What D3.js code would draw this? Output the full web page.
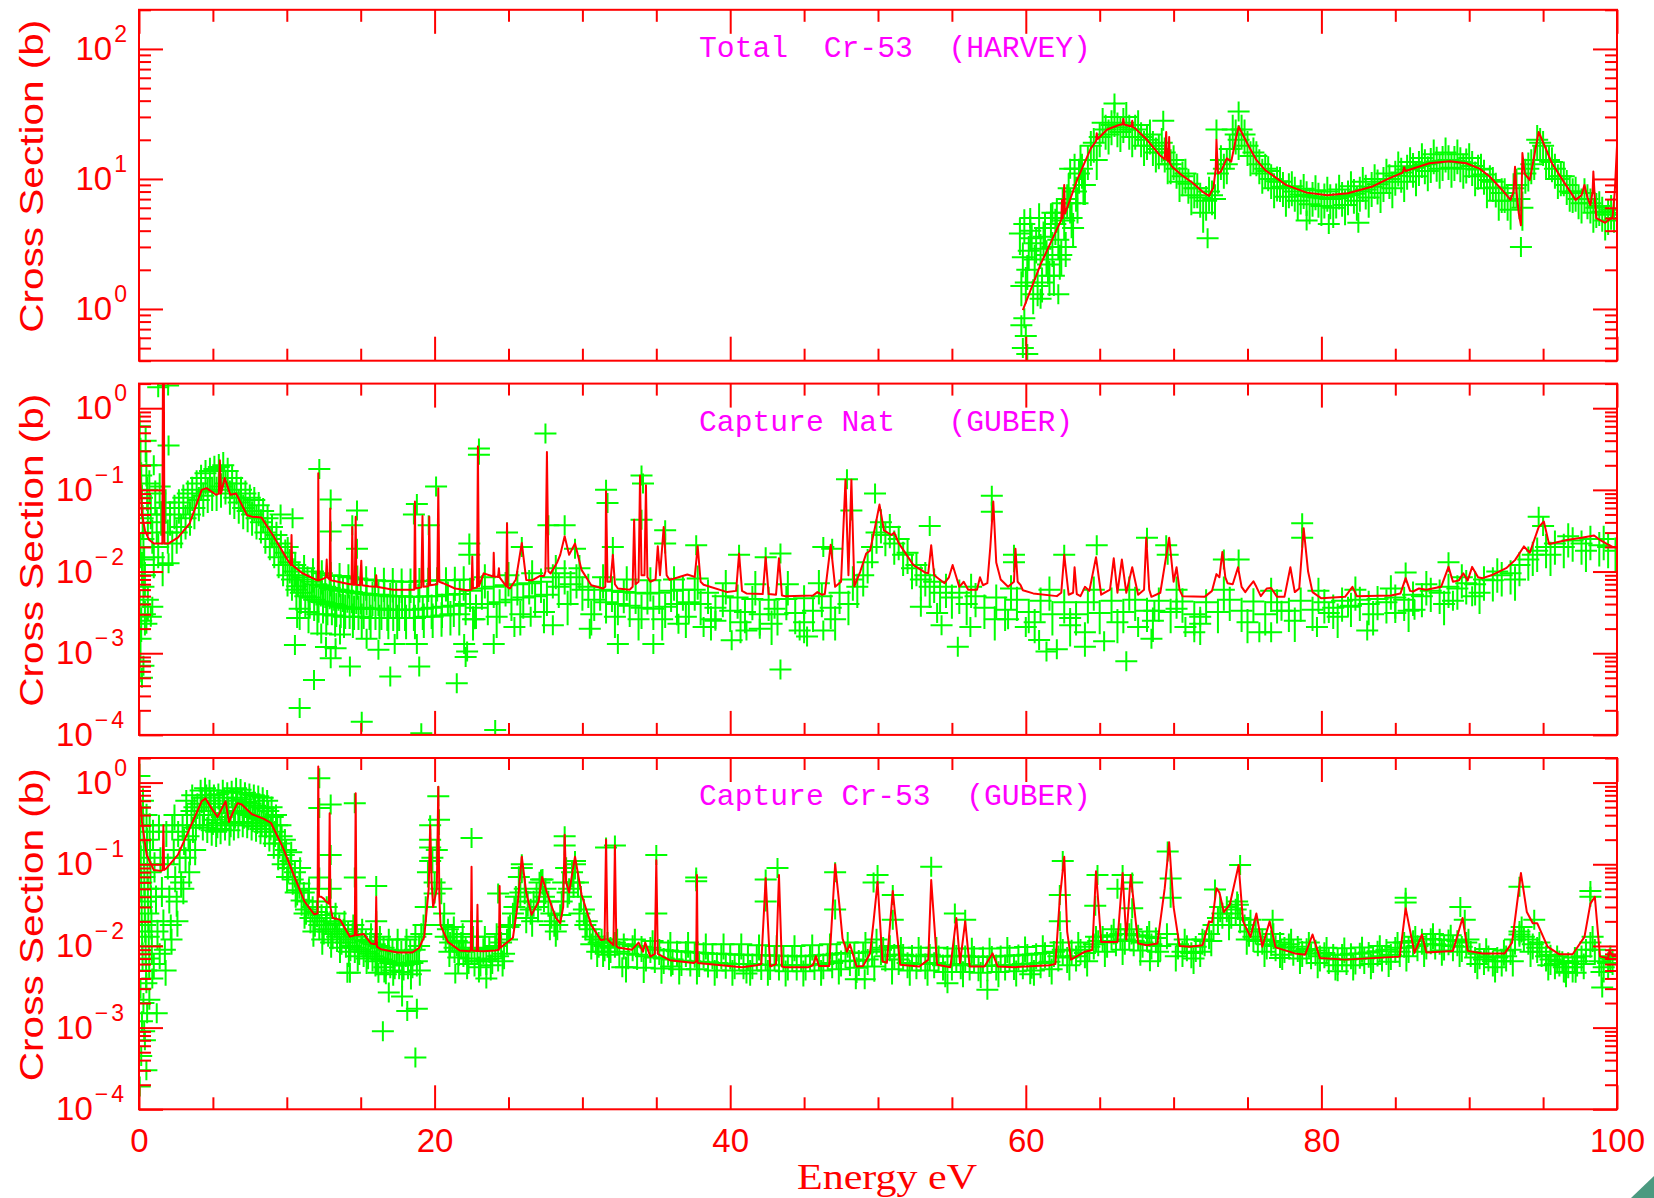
<!DOCTYPE html>
<html>
<head>
<meta charset="utf-8">
<script src="https://cdn.jsdelivr.net/npm/d3@7"></script>
<style>
  body { margin: 0; background: #fff; }
  svg { display: block; }
</style>
</head>
<body>
<svg id="chart" width="1654" height="1198"></svg>
<script>
// ---- axis values ----
var energyMajor = [0, 20, 40, 60, 80, 100];
var energyMinor = [5, 10, 15, 25, 30, 35, 45, 50, 55, 65, 70, 75, 85, 90, 95];
var totalDomain = [0.4, 200];
var captureDomain = [1e-4, 2];

// ---- Total Cr-53 (HARVEY): evaluated curve [E, xs] ----
var totalCurve = [[59.8,0.98],[61.0,2.2],[62.4,4.85],[62.45,6.9],[62.5,5.0],[62.6,9.0],[62.65,5.4],[63.5,10],[64.4,17.2],[64.75,19.5],[64.8,22.5],[64.85,20.2],[65.5,24],[66.3,26],[66.55,26.3],[66.6,29],[66.65,26.2],[67.15,25.3],[67.2,28],[67.25,25],[67.4,24.5],[68.2,20],[69.05,15.3],[69.4,14.2],[69.5,23],[69.55,14],[69.65,13.6],[69.7,21],[69.75,13.2],[69.9,12.4],[70.6,10.6],[71.3,9.3],[72.0,7.9],[72.4,7.4],[72.7,8.6],[72.85,12],[72.9,20],[73.0,11],[73.2,11.4],[73.6,14.4],[73.9,13.6],[74.2,20],[74.4,25.3],[75.1,17.7],[75.6,14],[76.2,11.7],[77.6,9.0],[79.0,7.85],[80.4,7.5],[81.8,7.76],[83.4,8.7],[84.5,10],[85.5,11.2],[85.6,12.3],[85.7,11.5],[87.3,13.2],[88.7,13.7],[89.8,13.2],[90.7,12],[91.4,10.4],[92.2,8.3],[92.8,6.9],[93.0,8],[93.1,12.4],[93.2,8],[93.35,5.5],[93.5,4.4],[93.6,15.8],[93.75,11],[94.1,9.8],[94.4,15],[94.7,23],[95.1,18],[95.6,13.2],[96.4,9.5],[97.2,6.9],[97.6,7.5],[97.8,9.0],[98.0,7.2],[98.2,6.3],[98.35,8],[98.4,11.4],[98.5,7],[98.6,5.0],[99.2,4.6],[99.7,5.1],[99.85,8],[100,18]];

// measured points [E, xs, dxs]
var totalData = [[59.6,3.8,1.2],[60.0,1.6,0.5],[60.4,3.5,1.1],[60.8,1.5,0.4],[61.2,3.6,1.1],[61.6,1.8,0.5],[62.0,4.5,1.4],[62.4,2.6,0.7],[62.8,7.0,2],[63.2,4.2,1.2],[63.6,11,3],[64.0,9,2.5],[64.4,18,4],[64.8,14,3],[65.2,27,6],[65.6,22,4],[66.0,30,6],[66.4,23,4],[66.8,30,6],[67.2,21,4],[67.6,26,5],[68.0,18,3.5],[68.4,22,4],[68.8,16,3],[69.2,19,4],[69.6,13,3],[70.0,14,3],[70.4,9.5,2],[70.8,11,2.2],[71.2,7.5,1.5],[71.6,8.5,1.8],[72.0,5.5,1.2],[72.4,8,2],[72.8,7,2],[73.2,14,4],[73.6,13,3],[74.0,24,6],[74.4,20,5],[74.8,22,5],[75.2,15,3],[75.6,15,3],[76.0,11,2.2],[76.4,11.5,2.3],[76.8,8.5,1.7],[77.2,9.5,2],[77.6,7.3,1.5],[78.0,8.8,1.8],[78.4,6.8,1.4],[78.8,8.4,1.8],[79.2,6.4,1.4],[79.6,8.2,1.8],[80.0,6.2,1.4],[80.4,8.0,1.8],[80.8,6.0,1.4],[81.2,8.3,1.8],[81.6,6.3,1.4],[82.0,8.8,1.9],[82.4,6.8,1.5],[82.8,9.5,2],[83.2,7.2,1.5],[83.6,10,2.1],[84.0,7.8,1.6],[84.4,11,2.3],[84.8,8.5,1.8],[85.2,12.5,2.5],[85.6,9.5,2],[86.0,13.5,2.7],[86.4,10.5,2.1],[86.8,14.5,2.9],[87.2,11.5,2.3],[87.6,15.5,3],[88.0,12,2.4],[88.4,16,3],[88.8,12.2,2.4],[89.2,15.5,3],[89.6,12,2.4],[90.0,14.5,3],[90.4,10.5,2.1],[90.8,12,2.4],[91.2,8.5,1.7],[91.6,9.5,2],[92.0,6.8,1.4],[92.4,7.8,1.6],[92.8,5.8,1.2],[93.2,9,3],[93.6,6,2],[94.0,12,4],[94.4,14,4],[94.8,19,5],[95.2,14,3],[95.6,13.5,3],[96.0,10,2],[96.4,10.5,2.1],[96.8,8,1.6],[97.2,8,1.6],[97.6,6.5,1.3],[98.0,7,1.4],[98.4,5.5,1.1],[98.8,6.2,1.3],[99.2,4.8,1],[99.6,5.8,1.2],[100.0,5.0,1]];
var totalExtra = [[59.7,1.5],[59.9,4.5],[60.1,2.0],[60.3,4.0],[60.5,1.3],[60.7,3.2],[60.9,5.0],[61.1,1.6],[61.3,4.2],[61.5,2.2],[61.7,5.0],[61.9,1.8],[62.1,5.5],[62.3,2.4],[62.5,6.5],[62.7,3.0],[62.9,8.5],[63.1,5.0],[63.3,12],[63.5,6.5],[63.7,14],[63.9,9],
[59.8,2.5],[60.2,2.8],[60.6,2.4],[61.0,2.9],[61.4,2.6],[61.8,3.0],[62.2,3.4],[62.6,4.8],[63.0,6.5],[63.4,8.0],[63.8,12],[64.2,14],[64.6,19],[65.0,21],[65.4,24],[65.8,26],[66.2,25],[66.6,27],[67.0,24],[67.4,24],[67.8,21],[68.2,20],[68.6,18],[69.0,17],[69.4,16],[69.8,13],[70.2,12],[70.6,10.5],[71.0,9.2],[71.4,8.5],[71.8,7.2],[72.2,6.8],[72.6,7.5],[73.0,11],[73.4,12],[73.8,17],[74.2,22],[74.6,24],[75.0,18],[75.4,16],[75.8,13],[76.2,12],[76.6,10],[77.0,9.6],[77.4,8.7],[77.8,8.5],[78.2,8.0],[78.6,7.6],[79.0,7.4],[79.4,7.3],[79.8,7.2],[80.2,7.1],[80.6,7.0],[81.0,7.1],[81.4,7.3],[81.8,7.5],[82.2,7.7],[82.6,8.0],[83.0,8.3],[83.4,8.7],[83.8,9.1],[84.2,9.5],[84.6,10.0],[85.0,10.6],[85.4,11.2],[85.8,11.8],[86.2,12.2],[86.6,12.6],[87.0,13.0],[87.4,13.3],[87.8,13.6],[88.2,13.8],[88.6,14],[89.0,13.8],[89.4,13.5],[89.8,13.2],[90.2,12.6],[90.6,11.8],[91.0,10.8],[91.4,9.8],[91.8,8.6],[92.2,7.8],[92.6,6.8],[93.0,8.5],[93.4,7],[93.8,11],[94.2,13],[94.6,20],[95.0,18],[95.4,14],[95.8,12],[96.2,10.5],[96.6,9],[97.0,7.8],[97.4,7],[97.8,7.8],[98.2,6.5],[98.6,6.0],[99.0,5.6],[99.4,5.3],[99.8,5.5]];
var totalScatter = [[59.7,0.75],[59.8,0.5],[60.0,0.62],[60.1,0.45],[59.9,0.85],[72.3,3.5],[93.5,3.0],[80.5,4.5],[82.5,4.6],[79.0,4.8],[62.2,1.3],[61.0,1.2],[69.3,28],[72.9,24],[66.0,38],[74.4,33],[61.8,5.5],[60.3,5.0],[63.0,12]];

// ---- Capture Nat (GUBER) ----
var natCurve = [[0.0,0.3],[0.1,0.12],[0.2,0.051],[0.4,0.032],[0.68,0.0245],[1.0,0.022],[1.33,0.022],[1.58,0.022],[1.62,3],[1.68,3],[1.72,0.022],[1.98,0.022],[2.63,0.026],[3.43,0.039],[4.24,0.1],[4.57,0.105],[5.21,0.087],[5.4,0.09],[5.47,0.23],[5.55,0.09],[5.8,0.14],[6.18,0.087],[6.57,0.09],[7.31,0.049],[7.64,0.047],[8.28,0.046],[9.1,0.027],[10.06,0.0138],[10.28,0.012],[10.32,0.028],[10.36,0.012],[11.03,0.0096],[12.0,0.0079],[12.1,0.0078],[12.13,0.16],[12.17,0.0078],[12.49,0.0082],[12.65,0.0085],[12.7,0.014],[12.75,0.0085],[12.9,0.008],[12.94,0.059],[12.98,0.0078],[13.3,0.0076],[14.27,0.007],[14.38,0.007],[14.43,0.035],[14.48,0.0069],[14.6,0.0069],[14.66,0.047],[14.71,0.0069],[14.95,0.0068],[15.04,0.0136],[15.1,0.0068],[15.56,0.0066],[16.0,0.0065],[16.05,0.009],[16.1,0.0065],[17.2,0.006],[18.5,0.006],[18.62,0.006],[18.67,0.072],[18.72,0.0062],[19.1,0.0064],[19.18,0.048],[19.25,0.0065],[19.58,0.0066],[19.64,0.047],[19.7,0.0068],[20.18,0.007],[20.25,0.105],[20.32,0.0075],[20.57,0.0072],[21.38,0.0062],[22.2,0.0059],[22.5,0.006],[22.55,0.0153],[22.6,0.0062],[22.87,0.0064],[22.93,0.34],[23.0,0.0066],[23.32,0.0095],[23.97,0.0087],[24.0,0.017],[24.05,0.0087],[24.3,0.0086],[24.35,0.011],[24.4,0.0085],[24.85,0.0066],[24.9,0.039],[24.95,0.0064],[25.1,0.0062],[25.5,0.008],[25.9,0.0224],[26.2,0.0079],[26.6,0.0078],[27.1,0.0088],[27.4,0.0088],[27.5,0.01],[27.6,0.29],[27.7,0.01],[27.85,0.0095],[28.3,0.013],[28.5,0.016],[28.8,0.027],[29.1,0.016],[29.5,0.022],[29.95,0.0104],[30.6,0.0068],[31.4,0.0062],[31.55,0.0065],[31.6,0.096],[31.7,0.0075],[31.9,0.0075],[32.06,0.016],[32.2,0.007],[32.4,0.0062],[33.2,0.006],[33.4,0.0065],[33.5,0.043],[33.6,0.007],[33.8,0.0075],[33.9,0.15],[34.0,0.009],[34.2,0.009],[34.3,0.114],[34.4,0.0085],[34.6,0.0075],[34.95,0.008],[35.1,0.0204],[35.25,0.009],[35.5,0.035],[35.7,0.009],[35.9,0.0079],[36.5,0.0085],[37.1,0.0092],[37.6,0.0086],[37.8,0.0204],[38.0,0.0075],[38.2,0.0069],[39.8,0.0056],[40.4,0.0058],[40.6,0.0166],[40.8,0.0058],[41.1,0.0054],[42.2,0.0053],[42.4,0.015],[42.6,0.0053],[43.1,0.0052],[43.3,0.0145],[43.5,0.0051],[43.7,0.005],[45.6,0.0051],[45.9,0.0056],[46.2,0.0052],[46.4,0.0053],[46.8,0.0213],[47.1,0.0065],[47.5,0.0075],[47.8,0.133],[48.0,0.009],[48.2,0.133],[48.4,0.0066],[48.8,0.01],[49.2,0.0166],[49.46,0.018],[49.8,0.035],[50.1,0.066],[50.4,0.032],[50.9,0.028],[51.1,0.03],[51.4,0.0223],[52.4,0.012],[53.2,0.0097],[53.4,0.0095],[53.6,0.021],[53.8,0.009],[54.5,0.0072],[54.8,0.0085],[55.05,0.012],[55.5,0.0065],[55.8,0.0075],[56.1,0.006],[56.7,0.006],[56.9,0.0085],[57.1,0.0068],[57.4,0.0072],[57.6,0.02],[57.8,0.072],[58.0,0.0129],[58.3,0.008],[58.8,0.0065],[59.2,0.0075],[59.3,0.019],[59.45,0.0075],[59.65,0.0068],[59.8,0.0059],[60.5,0.0054],[62.1,0.005],[62.4,0.0055],[62.6,0.016],[62.9,0.0052],[63.2,0.0055],[63.3,0.0113],[63.45,0.0053],[63.7,0.005],[64.0,0.0065],[64.3,0.0058],[64.75,0.015],[65.1,0.0052],[65.7,0.006],[65.95,0.0145],[66.2,0.0055],[66.5,0.014],[66.8,0.0055],[67.2,0.0113],[67.6,0.0052],[68.0,0.006],[68.15,0.026],[68.35,0.006],[68.5,0.0049],[69.1,0.0055],[69.7,0.026],[70.0,0.0075],[70.2,0.0113],[70.4,0.006],[70.6,0.005],[72.1,0.0049],[72.6,0.0058],[72.9,0.0093],[73.1,0.0085],[73.3,0.0174],[73.5,0.0085],[73.65,0.0072],[74.0,0.007],[74.36,0.0113],[74.6,0.0065],[74.85,0.0056],[75.1,0.0065],[75.4,0.0076],[75.6,0.0065],[75.9,0.005],[76.3,0.0062],[76.6,0.0063],[77.0,0.0049],[77.5,0.0049],[77.9,0.0113],[78.2,0.0056],[78.5,0.0062],[78.8,0.034],[79.1,0.01],[79.4,0.0056],[80.0,0.0047],[81.6,0.0049],[82.1,0.0065],[82.4,0.005],[84.7,0.0051],[85.35,0.0054],[85.7,0.0083],[86.0,0.0058],[86.2,0.0057],[86.6,0.0062],[87.1,0.006],[88.1,0.0065],[88.6,0.0114],[88.9,0.0075],[89.3,0.0078],[89.6,0.0095],[89.9,0.0078],[90.2,0.0114],[90.6,0.0085],[90.9,0.0083],[91.5,0.009],[92.5,0.011],[93.1,0.0138],[93.7,0.0203],[94.1,0.017],[94.7,0.035],[95.05,0.041],[95.4,0.0218],[96.7,0.0245],[97.6,0.026],[98.45,0.0276],[98.9,0.024],[99.4,0.0213],[99.7,0.02],[100,0.02]];

var natData = [[0.05,0.6,0.25],[0.1,0.3,0.12],[0.15,0.15,0.06],[0.2,0.08,0.03],[0.25,0.045,0.02],[0.3,0.025,0.01],[0.35,0.014,0.006],[0.4,0.009,0.003],[0.45,0.4,0.15],[0.5,0.2,0.08],[0.55,0.1,0.04],[0.6,0.05,0.02],[0.1,0.02,0.008],[0.2,0.012,0.005],[0.3,0.0065,0.002],[0.05,0.004,0.0015],[0.15,0.0025,0.001],[0.1,0.0015,0.0005],[0.05,0.0008,0.0003],[0.4,0.003,0.001],[0.6,0.0045,0.0015],
[0.7,0.12,0.04],[0.8,0.06,0.02],[0.9,0.03,0.01],[1.0,0.015,0.005],[1.1,0.09,0.03],[1.2,0.04,0.015],[1.3,0.02,0.007],[1.4,0.11,0.04],[1.5,0.05,0.02],[1.6,0.012,0.004],
[1.8,0.07,0.02],[1.95,0.03,0.01],[2.1,0.05,0.015],[2.25,0.022,0.007],[2.4,0.06,0.02],[2.55,0.03,0.01],[2.7,0.07,0.02],[2.85,0.035,0.01],
[3.0,0.08,0.02],[3.15,0.045,0.012],[3.3,0.09,0.025],[3.45,0.05,0.012],[3.6,0.1,0.025],[3.75,0.06,0.015],[3.9,0.12,0.03],
[4.05,0.075,0.02],[4.2,0.14,0.035],[4.35,0.085,0.02],[4.5,0.16,0.04],[4.65,0.095,0.02],[4.8,0.17,0.04],[4.95,0.1,0.025],[5.1,0.18,0.045],[5.25,0.1,0.025],[5.4,0.19,0.05],[5.55,0.11,0.025],[5.7,0.2,0.05],[5.85,0.12,0.03],[6.0,0.17,0.04],
[6.15,0.09,0.02],[6.3,0.14,0.035],[6.45,0.08,0.02],[6.6,0.12,0.03],[6.75,0.07,0.02],[6.9,0.1,0.025],[7.05,0.06,0.015],[7.2,0.09,0.02],[7.35,0.055,0.015],
[7.5,0.08,0.02],[7.65,0.05,0.012],[7.8,0.075,0.018],[7.95,0.045,0.01],[8.1,0.065,0.015],[8.25,0.04,0.01],[8.4,0.055,0.013],[8.55,0.03,0.008],[8.7,0.045,0.011],[8.85,0.025,0.007],
[9.0,0.035,0.01],[9.15,0.02,0.006],[9.3,0.028,0.008],[9.45,0.015,0.004],[9.6,0.022,0.006],[9.75,0.012,0.003],[9.9,0.017,0.005],[10.05,0.009,0.0025],[10.2,0.013,0.004],[10.35,0.008,0.002],
[10.5,0.01,0.003],[10.65,0.006,0.0018],[10.8,0.009,0.0025],[10.95,0.0055,0.0015],[11.1,0.0085,0.0025],[11.25,0.005,0.0015],[11.4,0.008,0.0022],[11.55,0.0048,0.0014],[11.7,0.0075,0.002],[11.85,0.0045,0.0013],[12.0,0.007,0.002],[12.15,0.0043,0.0012],[12.3,0.0068,0.002],[12.45,0.0042,0.0012],[12.6,0.0065,0.0018],[12.75,0.004,0.0012],[12.9,0.0063,0.0018],[13.05,0.004,0.0012],[13.2,0.006,0.0017],[13.35,0.0038,0.0011],[13.5,0.006,0.0017],[13.65,0.0037,0.0011],[13.8,0.0058,0.0016],[13.95,0.0036,0.001],[14.1,0.0057,0.0016],[14.25,0.0036,0.001],[14.4,0.0056,0.0016],[14.55,0.0035,0.001],[14.7,0.0055,0.0015],[14.85,0.0035,0.001],
[15.0,0.0054,0.0015],[15.2,0.0036,0.001],[15.4,0.0053,0.0015],[15.6,0.0035,0.001],[15.8,0.0052,0.0014],[16.0,0.0035,0.001],[16.2,0.0052,0.0014],[16.4,0.0035,0.001],[16.6,0.0051,0.0014],[16.8,0.0034,0.001],[17.0,0.005,0.0014],[17.2,0.0034,0.001],[17.4,0.005,0.0014],[17.6,0.0034,0.001],[17.8,0.005,0.0014],[18.0,0.0034,0.001],[18.3,0.0049,0.0014],[18.6,0.0034,0.001],[18.9,0.0049,0.0014],[19.2,0.0035,0.001],[19.5,0.005,0.0014],[19.8,0.0036,0.001],[20.1,0.005,0.0014],[20.5,0.0037,0.001],[20.9,0.0052,0.0014],[21.3,0.0038,0.001],[21.7,0.0053,0.0015],[22.1,0.004,0.001],
[22.4,0.0058,0.0012],[22.8,0.0036,0.0008],[23.2,0.0062,0.0013],[23.6,0.004,0.0009],[24.0,0.0065,0.0014],[24.4,0.0042,0.0009],[24.8,0.0068,0.0014],[25.2,0.0045,0.001],[25.6,0.007,0.0015],[26.0,0.0048,0.001],[26.4,0.0072,0.0015],[26.8,0.005,0.001],[27.2,0.0075,0.0016],[27.6,0.0052,0.0011],[28.0,0.0085,0.0018],[28.4,0.0065,0.0014],[28.8,0.0095,0.002],[29.2,0.007,0.0015],[29.6,0.0085,0.0018],[30.0,0.006,0.0013],[30.4,0.0065,0.0014],[30.8,0.0045,0.001],[31.2,0.006,0.0013],[31.6,0.0042,0.0009],[32.0,0.0058,0.0012],[32.4,0.004,0.0009],[32.8,0.0056,0.0012],[33.2,0.0038,0.0008],[33.6,0.0055,0.0012],[34.0,0.0036,0.0008],[34.4,0.0054,0.0011],[34.8,0.0035,0.0008],[35.2,0.0055,0.0012],[35.6,0.0037,0.0008],[36.0,0.0058,0.0012],[36.4,0.004,0.0009],[36.8,0.006,0.0013],[37.2,0.0042,0.0009],[37.6,0.006,0.0013],[38.0,0.004,0.0009],[38.5,0.0055,0.0012],[39.0,0.0036,0.0008],[39.5,0.005,0.0011],[40.0,0.0033,0.0007],[40.5,0.0048,0.001],[41.0,0.0032,0.0007],[41.5,0.0046,0.001],[42.0,0.003,0.0007],[42.6,0.0045,0.001],[43.2,0.003,0.0007],[43.8,0.0046,0.001],[44.4,0.0031,0.0007],[45.0,0.0047,0.001],[45.6,0.0033,0.0007],[46.2,0.005,0.0011],[46.8,0.0036,0.0008],[47.4,0.0055,0.0012],[48.0,0.004,0.0009],[48.6,0.0065,0.0014],[49.0,0.009,0.002],[49.3,0.013,0.003],[49.6,0.02,0.005],[49.9,0.03,0.007],[50.2,0.04,0.01],[50.5,0.028,0.006],[50.8,0.035,0.008],[51.1,0.022,0.005],[51.4,0.025,0.006],[51.7,0.016,0.004],[52.0,0.017,0.004],[52.3,0.011,0.0025],[52.6,0.012,0.003],[52.9,0.008,0.002],[53.2,0.009,0.002],[53.5,0.0065,0.0015],[53.8,0.0075,0.0017],[54.2,0.0055,0.0012],[54.6,0.0065,0.0014],[55.0,0.0048,0.001],
[55.5,0.0055,0.0012],[56.0,0.004,0.0009],[56.6,0.005,0.001],[57.2,0.0036,0.0008],[58.0,0.0048,0.001],[58.6,0.0034,0.0008],[59.4,0.0045,0.001],[60.2,0.0032,0.0007],[61.0,0.0044,0.001],[61.8,0.003,0.0007],[62.6,0.0042,0.0009],[63.4,0.003,0.0007],[64.2,0.0042,0.0009],[65.0,0.0031,0.0007],[65.8,0.0044,0.001],[66.6,0.0032,0.0007],[67.4,0.0045,0.001],[68.2,0.0033,0.0007],[69.0,0.0044,0.001],[69.8,0.0032,0.0007],[70.6,0.0043,0.0009],[71.4,0.003,0.0007],[72.2,0.0042,0.0009],[73.0,0.0032,0.0007],[73.8,0.0045,0.001],[74.6,0.0033,0.0007],[75.4,0.0043,0.0009],[76.2,0.003,0.0007],[77.0,0.0042,0.0009],[77.8,0.0033,0.0007],[78.6,0.0044,0.001],[79.4,0.0034,0.0008],[80.2,0.0042,0.0009],[80.8,0.0036,0.0008],[81.4,0.0044,0.001],[82.0,0.0038,0.0008],[82.6,0.0045,0.001],[83.2,0.004,0.0009],[83.8,0.0046,0.001],[84.4,0.0042,0.0009],[85.0,0.0048,0.001],[85.6,0.0045,0.001],[86.2,0.0052,0.0011],[86.8,0.005,0.0011],[87.4,0.0058,0.0012],[88.0,0.0055,0.0012],[88.6,0.0065,0.0014],[89.2,0.0062,0.0013],[89.8,0.0072,0.0015],[90.4,0.007,0.0015],[91.0,0.008,0.0017],[91.6,0.0078,0.0017],[92.2,0.009,0.002],[92.8,0.0095,0.002],[93.4,0.012,0.0025],[94.0,0.014,0.003],[94.6,0.018,0.004],[95.2,0.02,0.004],[95.8,0.022,0.005],[96.4,0.02,0.004],[97.0,0.024,0.005],[97.6,0.022,0.005],[98.2,0.025,0.005],[98.8,0.021,0.005],[99.4,0.02,0.004],[99.9,0.018,0.004]];
var natExtra = [[10.57,0.012],[10.87,0.0035],[11.17,0.011],[11.47,0.0032],[11.77,0.01],[12.07,0.003],[12.37,0.0095],[12.67,0.003],[12.97,0.009],[13.27,0.0029],[13.57,0.0088],[13.87,0.0028],[14.17,0.0085],[14.47,0.0028],[14.77,0.0082],[15.07,0.0028],[15.37,0.008],[15.67,0.0027],[15.97,0.0078],[16.27,0.0027],[16.57,0.0077],[16.87,0.0027],[17.17,0.0076],[17.47,0.0027],[17.77,0.0075],[18.07,0.0027],[18.37,0.0075],[18.67,0.0027],[18.97,0.0076],[19.27,0.0028],[19.57,0.0077],[19.87,0.0028],[20.17,0.0078],[20.47,0.0029],[20.77,0.0078],[21.07,0.003],[21.37,0.0079],[21.67,0.003],[21.97,0.008],
[22.6,0.0026],[23.4,0.0085],[24.2,0.0028],[25.0,0.009],[25.8,0.003],[26.6,0.0095],[27.4,0.0032],[28.2,0.011],[29.0,0.004],[29.8,0.011],[30.6,0.003],[31.4,0.0085],[32.2,0.0028],[33.0,0.008],[33.8,0.0026],[34.6,0.0078],[35.4,0.0026],[36.2,0.008],[37.0,0.0028],[37.8,0.0082],[38.7,0.0026],[39.7,0.0072],[40.7,0.0024],[41.7,0.007],[42.8,0.0023],[43.9,0.007],[45.0,0.0024],[46.0,0.0072],[47.1,0.0026],[48.3,0.008],
[56.3,0.0065],[57.9,0.0026],[59.0,0.0062],[60.6,0.0024],[61.6,0.006],[63.0,0.0022],[64.6,0.006],[66.2,0.0024],[67.0,0.006],[68.6,0.0025],[70.2,0.006],[71.8,0.0023],[73.4,0.006],[75.0,0.0024],[76.6,0.0058],[78.2,0.0025],[79.8,0.0058],[81.1,0.0028],[82.3,0.006],[83.5,0.003],[84.7,0.0062],[85.9,0.0033],[87.1,0.007],[88.3,0.004],[89.5,0.0085],[90.7,0.0055],[91.9,0.01],[93.1,0.008],[94.3,0.016],[95.5,0.016],[96.7,0.027],[97.9,0.018],[99.1,0.025]];
var natScatter = [[12.2,0.18],[12.97,0.076],[12.97,0.031],[14.75,0.056],[14.43,0.037],[14.75,0.019],[10.39,0.045],[9.58,0.05],[10.06,0.02],[10.7,0.0066],[10.7,0.0027],[10.55,0.00126],[11.84,0.00047],[10.87,0.000213],[12.65,0.00119],[12.97,0.00087],[14.27,0.00069],[15.07,0.000145],[12.33,0.00174],[13.3,0.00115],[13.6,0.0017],[15.4,0.0015],[16.2,0.0011],[17.0,0.00052],[17.3,0.0013],[18.8,0.0013],[18.96,0.00069],[19.1,0.000105],[21.5,0.00043],[22.2,0.00105],[22.0,0.0013],[22.1,0.0009],[24.0,0.0013],[24.1,0.000115],[22.7,0.0026],[20.1,0.11],[18.8,0.067],[19.6,0.037],[18.6,0.05],[23.0,0.32],[23.0,0.27],[22.35,0.022],[22.35,0.016],[24.9,0.03],[25.9,0.02],[27.5,0.49],[27.7,0.037],[28.8,0.037],[29.5,0.019],[31.6,0.1],[31.7,0.069],[32.06,0.02],[34.0,0.15],[34.1,0.12],[34.0,0.043],[35.6,0.032],[35.6,0.022],[37.7,0.021],[40.6,0.016],[42.4,0.015],[43.4,0.0166],[43.4,0.00063],[32.4,0.0013],[34.8,0.0013],[40.1,0.00144],[41.1,0.0019],[44.7,0.0019],[45.2,0.0016],[46.3,0.0019],[47.9,0.135],[48.2,0.056],[46.9,0.019],[46.3,0.02],[49.8,0.09],[53.5,0.036],[57.7,0.085],[57.7,0.054],[59.2,0.016],[59.2,0.013],[64.8,0.021],[62.6,0.016],[68.2,0.026],[69.5,0.021],[69.6,0.016],[73.4,0.014],[74.4,0.014],[78.7,0.039],[78.7,0.026],[85.7,0.0097],[88.6,0.013],[94.7,0.047],[95.0,0.036],[52.9,0.0037],[54.0,0.0031],[54.3,0.0022],[55.4,0.0012],[56.25,0.0021],[58.8,0.0026],[60.0,0.0021],[60.9,0.00145],[61.4,0.00105],[62.1,0.00112],[63.0,0.0027],[64.0,0.0018],[64.0,0.0012],[65.3,0.0014],[66.8,0.0008],[67.6,0.0021],[68.5,0.0015],[68.7,0.0033],[70.2,0.0035],[70.8,0.0021],[71.4,0.0018],[71.8,0.0028],[75.8,0.0018],[76.6,0.0018],[77.3,0.0033],[79.7,0.0021],[80.5,0.0031],[81.8,0.0037],[83.1,0.0019],[85.0,0.0031],[86.3,0.0034],[88.9,0.0044],[90.2,0.005],[30.5,0.002],[28.0,0.0022],[26.5,0.0028],[25.4,0.0021],[36.5,0.0023],[38.2,0.0021],[39.0,0.0025],[42.0,0.002],[43.0,0.0035],[1.3,1.8],[1.97,1.9],[2.0,0.35],[2.0,0.0126],[0.9,0.0037],[1.0,0.2],[0.3,0.0007],[0.2,0.0005],[0.5,0.0023],[0.8,0.0028]];

// ---- Capture Cr-53 (GUBER) ----
var crCurve = [[0.0,1.0],[0.2,0.33],[0.52,0.13],[1.0,0.085],[1.49,0.083],[1.6,0.085],[1.65,0.3],[1.7,0.085],[1.82,0.088],[2.63,0.13],[3.43,0.275],[4.24,0.59],[4.5,0.64],[4.89,0.49],[5.31,0.38],[5.6,0.48],[5.86,0.59],[6.09,0.33],[6.4,0.45],[6.67,0.56],[6.95,0.54],[7.64,0.41],[8.45,0.36],[8.93,0.32],[9.74,0.16],[10.55,0.068],[11.2,0.035],[11.84,0.0245],[12.08,0.025],[12.13,1.57],[12.18,0.04],[12.33,0.04],[12.5,0.038],[12.65,0.035],[12.85,0.033],[12.9,0.42],[12.95,0.03],[13.1,0.022],[13.6,0.021],[14.27,0.013],[14.6,0.0135],[14.66,0.74],[14.72,0.0135],[15.2,0.014],[15.7,0.0107],[16.0,0.0105],[16.05,0.04],[16.1,0.0098],[16.37,0.0091],[17.5,0.0083],[18.5,0.0083],[18.96,0.0095],[19.3,0.013],[19.6,0.05],[19.7,0.3],[19.8,0.06],[19.9,0.03],[20.15,0.05],[20.25,0.89],[20.32,0.04],[20.4,0.018],[20.9,0.0112],[21.7,0.0088],[22.35,0.0086],[22.45,0.0088],[22.5,0.093],[22.55,0.0088],[22.85,0.0087],[22.9,0.032],[22.95,0.0087],[23.3,0.0086],[24.1,0.0088],[24.35,0.009],[24.4,0.054],[24.45,0.0095],[24.6,0.01],[25.3,0.0126],[25.6,0.03],[25.9,0.124],[26.2,0.045],[26.56,0.024],[27.04,0.035],[27.27,0.07],[27.6,0.045],[28.2,0.022],[28.5,0.019],[28.7,0.03],[28.8,0.23],[28.9,0.06],[29.1,0.045],[29.5,0.124],[29.95,0.042],[30.6,0.018],[31.25,0.0118],[31.5,0.012],[31.6,0.2],[31.7,0.012],[32.1,0.0102],[32.2,0.17],[32.3,0.01],[32.4,0.0096],[33.35,0.009],[33.8,0.011],[34.1,0.0085],[34.25,0.011],[34.6,0.0074],[34.9,0.008],[35.0,0.112],[35.1,0.008],[35.9,0.0067],[37.55,0.0062],[37.7,0.0065],[37.75,0.074],[37.8,0.0062],[40.8,0.0055],[41.8,0.0058],[42.1,0.006],[42.4,0.068],[42.7,0.0056],[43.1,0.006],[43.3,0.074],[43.5,0.0056],[43.7,0.0055],[45.3,0.0055],[45.6,0.0058],[45.8,0.0075],[46.0,0.0057],[46.7,0.0057],[47.1,0.1],[47.4,0.03],[47.6,0.0123],[47.9,0.0085],[48.1,0.0105],[48.55,0.0056],[49.0,0.0057],[49.46,0.0081],[49.7,0.02],[49.97,0.061],[50.3,0.0065],[50.6,0.0062],[51.0,0.047],[51.5,0.0059],[52.8,0.0056],[53.4,0.0068],[53.6,0.064],[54.0,0.0059],[54.9,0.0055],[55.3,0.022],[55.55,0.0062],[55.9,0.02],[56.2,0.0056],[57.2,0.0056],[57.75,0.0081],[58.1,0.0056],[59.3,0.0055],[61.6,0.0058],[62.0,0.006],[62.3,0.038],[62.6,0.124],[62.8,0.015],[63.06,0.0068],[64.0,0.0085],[64.5,0.0089],[64.75,0.082],[65.1,0.0112],[66.2,0.0112],[66.55,0.078],[66.8,0.012],[67.1,0.074],[67.6,0.0107],[68.2,0.0102],[68.9,0.0107],[69.4,0.051],[69.7,0.186],[70.0,0.03],[70.4,0.01],[71.1,0.0098],[71.96,0.0102],[72.4,0.02],[72.6,0.0195],[72.9,0.051],[73.1,0.045],[73.4,0.026],[73.8,0.032],[74.4,0.098],[74.7,0.02],[75.2,0.0129],[75.6,0.025],[76.0,0.0098],[76.5,0.02],[76.9,0.0096],[78.2,0.0081],[78.9,0.0078],[79.4,0.0138],[79.9,0.0071],[81.6,0.0068],[85.3,0.0074],[85.7,0.029],[86.3,0.0082],[86.8,0.0138],[87.1,0.0083],[88.9,0.0087],[89.55,0.022],[89.9,0.0087],[90.9,0.0081],[92.4,0.0081],[92.9,0.011],[93.5,0.078],[93.9,0.026],[94.3,0.019],[94.6,0.019],[95.3,0.0098],[96.1,0.0079],[97.0,0.0079],[97.8,0.0129],[98.2,0.033],[98.5,0.04],[98.85,0.0074],[99.4,0.0071],[99.5,0.0088],[99.7,0.0075],[100,0.0076]];

var crData = [[0.03,1.2,0.5],[0.06,0.5,0.2],[0.09,0.25,0.1],[0.12,0.12,0.05],[0.15,0.06,0.025],[0.18,0.03,0.012],[0.21,0.015,0.006],[0.24,0.008,0.003],[0.27,0.6,0.25],[0.3,0.3,0.12],[0.33,0.15,0.06],[0.36,0.07,0.03],[0.39,0.035,0.015],[0.42,0.018,0.007],[0.45,0.01,0.004],[0.48,0.005,0.002],[0.51,0.4,0.15],[0.54,0.2,0.08],[0.57,0.1,0.04],[0.6,0.05,0.02],[0.63,0.025,0.01],[0.66,0.013,0.005],[0.69,0.007,0.003],[0.72,0.3,0.12],[0.75,0.15,0.06],[0.78,0.08,0.03],[0.81,0.04,0.015],[0.84,0.02,0.008],[0.87,0.01,0.004],
[0.95,0.25,0.1],[1.05,0.1,0.04],[1.15,0.04,0.015],[1.25,0.015,0.006],[1.35,0.3,0.1],[1.45,0.12,0.04],[1.55,0.05,0.02],[1.65,0.02,0.008],[1.75,0.009,0.003],[1.85,0.25,0.08],[1.95,0.1,0.035],[2.05,0.04,0.015],[2.15,0.018,0.006],
[2.25,0.3,0.09],[2.35,0.15,0.045],[2.45,0.07,0.02],[2.55,0.035,0.01],[2.65,0.25,0.08],[2.75,0.12,0.04],[2.85,0.06,0.02],[2.95,0.3,0.1],
[3.05,0.2,0.06],[3.15,0.12,0.035],[3.25,0.4,0.12],[3.35,0.22,0.06],[3.45,0.15,0.04],[3.55,0.45,0.13],[3.65,0.28,0.08],[3.75,0.5,0.15],[3.85,0.3,0.08],[3.95,0.55,0.15],
[4.1,0.4,0.1],[4.25,0.65,0.15],[4.4,0.45,0.1],[4.55,0.7,0.15],[4.7,0.4,0.1],[4.85,0.6,0.15],[5.0,0.35,0.08],[5.15,0.5,0.12],[5.3,0.32,0.08],[5.45,0.55,0.13],[5.6,0.38,0.09],[5.75,0.65,0.15],[5.9,0.42,0.1],[6.05,0.5,0.12],[6.2,0.33,0.08],[6.35,0.6,0.14],[6.5,0.42,0.1],[6.65,0.65,0.15],[6.8,0.45,0.1],[6.95,0.62,0.14],
[7.1,0.42,0.09],[7.25,0.58,0.12],[7.4,0.4,0.08],[7.55,0.55,0.11],[7.7,0.38,0.08],[7.85,0.52,0.1],[8.0,0.36,0.07],[8.15,0.5,0.1],[8.3,0.34,0.07],[8.45,0.48,0.1],[8.6,0.32,0.07],[8.75,0.45,0.09],[8.9,0.3,0.06],
[9.05,0.38,0.08],[9.2,0.25,0.06],[9.35,0.3,0.07],[9.5,0.18,0.045],[9.65,0.22,0.05],[9.8,0.13,0.03],[9.95,0.15,0.035],
[10.1,0.09,0.022],[10.25,0.11,0.025],[10.4,0.065,0.015],[10.55,0.08,0.018],[10.7,0.048,0.011],[10.85,0.058,0.013],[11.0,0.036,0.008],
[11.15,0.045,0.01],[11.3,0.028,0.006],[11.45,0.035,0.008],[11.6,0.022,0.005],[11.75,0.03,0.007],[11.9,0.02,0.0045],
[12.05,0.026,0.006],[12.2,0.018,0.004],[12.35,0.024,0.0055],[12.5,0.016,0.0035],[12.65,0.022,0.005],[12.8,0.015,0.0035],[12.95,0.02,0.0045],[13.1,0.014,0.003],[13.25,0.019,0.0045],[13.4,0.013,0.003],[13.55,0.018,0.004],[13.7,0.012,0.0028],[13.85,0.016,0.0036],
[14.0,0.011,0.0025],[14.15,0.015,0.0034],[14.3,0.01,0.0023],[14.45,0.014,0.003],[14.6,0.0095,0.0021],[14.75,0.013,0.003],[14.9,0.009,0.002],[15.05,0.012,0.0027],[15.2,0.0085,0.0019],[15.35,0.0115,0.0026],[15.5,0.008,0.0018],[15.65,0.011,0.0025],[15.8,0.0075,0.0017],[15.95,0.0105,0.0024],
[16.1,0.007,0.0016],[16.25,0.01,0.0023],[16.4,0.0068,0.0015],[16.55,0.0095,0.0021],[16.7,0.0065,0.0015],[16.85,0.009,0.002],[17.0,0.0062,0.0014],[17.15,0.0088,0.002],[17.3,0.006,0.0014],[17.45,0.0086,0.0019],[17.6,0.006,0.0014],[17.75,0.0085,0.0019],[17.9,0.0058,0.0013],[18.05,0.0085,0.0019],[18.2,0.006,0.0014],[18.35,0.0088,0.002],[18.5,0.0062,0.0014],[18.65,0.009,0.002],[18.8,0.0065,0.0015],
[18.95,0.01,0.0025],[19.1,0.014,0.0035],[19.25,0.018,0.0045],[19.4,0.03,0.008],[19.55,0.08,0.02],[19.7,0.2,0.05],[19.85,0.12,0.03],[20.0,0.06,0.015],[20.15,0.15,0.04],[20.3,0.35,0.09],[20.45,0.05,0.012],
[20.6,0.018,0.004],[20.75,0.013,0.003],[20.9,0.016,0.0035],[21.05,0.011,0.0025],[21.2,0.013,0.003],[21.35,0.0095,0.0021],[21.5,0.0115,0.0026],[21.65,0.0088,0.002],[21.8,0.011,0.0025],[21.95,0.0085,0.0019],
[22.1,0.0095,0.0021],[22.3,0.007,0.0016],[22.5,0.009,0.002],[22.7,0.0065,0.0015],[22.9,0.009,0.002],[23.1,0.0065,0.0015],[23.3,0.0092,0.002],[23.5,0.0068,0.0015],[23.7,0.0095,0.0021],[23.9,0.007,0.0016],[24.1,0.01,0.0022],[24.3,0.0075,0.0017],[24.5,0.011,0.0025],[24.7,0.008,0.0018],[24.9,0.012,0.0027],
[25.1,0.018,0.004],[25.3,0.025,0.006],[25.5,0.04,0.01],[25.7,0.07,0.017],[25.9,0.09,0.02],[26.1,0.05,0.012],[26.3,0.035,0.008],[26.5,0.028,0.006],[26.7,0.035,0.008],[26.9,0.045,0.01],[27.1,0.06,0.014],[27.3,0.065,0.015],[27.5,0.05,0.012],[27.7,0.035,0.008],[27.9,0.025,0.006],
[28.1,0.02,0.0045],[28.3,0.018,0.004],[28.5,0.024,0.0055],[28.7,0.06,0.015],[28.9,0.09,0.02],[29.1,0.05,0.012],[29.3,0.08,0.02],[29.5,0.1,0.025],[29.7,0.06,0.014],[29.9,0.04,0.009],
[30.1,0.028,0.006],[30.3,0.02,0.0045],[30.5,0.016,0.0036],[30.7,0.013,0.003],[30.9,0.012,0.0027],[31.1,0.011,0.0025],[31.3,0.012,0.0027],[31.5,0.01,0.0023],[31.7,0.011,0.0025],[31.9,0.0095,0.0021],
[32.2,0.011,0.0025],[32.5,0.0085,0.0019],[32.8,0.0105,0.0024],[33.1,0.008,0.0018],[33.4,0.01,0.0023],[33.7,0.0078,0.0017],[34.0,0.0098,0.0022],[34.3,0.0075,0.0017],[34.6,0.0095,0.0021],[34.9,0.0072,0.0016],[35.2,0.009,0.002],[35.5,0.007,0.0016],[35.8,0.0088,0.002],[36.1,0.0068,0.0015],[36.4,0.0086,0.0019],[36.7,0.0066,0.0015],[37.0,0.0085,0.0019],[37.3,0.0065,0.0015],[37.6,0.0083,0.0019],[37.9,0.0064,0.0014],[38.2,0.0082,0.0018],[38.5,0.0063,0.0014],[38.8,0.008,0.0018],[39.1,0.0062,0.0014],[39.4,0.008,0.0018],[39.7,0.0061,0.0014],[40.0,0.0079,0.0018],[40.3,0.006,0.0013],[40.6,0.0078,0.0017],[40.9,0.006,0.0013],[41.2,0.0078,0.0017],[41.5,0.006,0.0013],[41.8,0.0077,0.0017],[42.1,0.0059,0.0013],[42.4,0.0077,0.0017],[42.7,0.0059,0.0013],[43.0,0.0076,0.0017],[43.3,0.0058,0.0013],[43.6,0.0076,0.0017],[43.9,0.0058,0.0013],[44.2,0.0075,0.0017],[44.5,0.0058,0.0013],[44.8,0.0075,0.0017],[45.1,0.0058,0.0013],[45.4,0.0076,0.0017],[45.7,0.0059,0.0013],[46.0,0.0077,0.0017],[46.3,0.006,0.0013],[46.6,0.0078,0.0017],[46.9,0.0062,0.0014],[47.2,0.008,0.0018],[47.5,0.0065,0.0015],[47.8,0.0082,0.0018],[48.1,0.0066,0.0015],[48.4,0.0082,0.0018],[48.7,0.0066,0.0015],[49.0,0.0083,0.0019],[49.3,0.0068,0.0015],[49.6,0.0085,0.0019],
[49.9,0.012,0.003],[50.2,0.009,0.002],[50.5,0.0075,0.0017],[50.8,0.01,0.0022],[51.1,0.0078,0.0017],[51.4,0.0068,0.0015],[51.7,0.0078,0.0017],[52.0,0.0062,0.0014],[52.3,0.0076,0.0017],[52.6,0.006,0.0013],[52.9,0.0075,0.0017],[53.2,0.006,0.0013],[53.5,0.0078,0.0017],[53.8,0.0062,0.0014],[54.1,0.0075,0.0017],[54.4,0.0058,0.0013],[54.7,0.0074,0.0016],[55.0,0.0058,0.0013],[55.3,0.0076,0.0017],[55.6,0.006,0.0013],[55.9,0.0075,0.0017],[56.2,0.0058,0.0013],[56.5,0.0074,0.0016],[56.8,0.0057,0.0013],[57.1,0.0073,0.0016],[57.4,0.0057,0.0013],[57.7,0.0074,0.0016],[58.0,0.0058,0.0013],[58.3,0.0075,0.0017],[58.6,0.0058,0.0013],[58.9,0.0076,0.0017],[59.2,0.0059,0.0013],[59.5,0.0077,0.0017],[59.8,0.006,0.0013],[60.1,0.0078,0.0017],[60.4,0.0061,0.0014],[60.7,0.008,0.0018],[61.0,0.0062,0.0014],[61.3,0.0082,0.0018],[61.6,0.0064,0.0014],[61.9,0.0085,0.0019],
[62.2,0.0075,0.0017],[62.5,0.009,0.002],[62.8,0.0072,0.0016],[63.1,0.0088,0.002],[63.4,0.0075,0.0017],[63.7,0.009,0.002],[64.0,0.0082,0.0018],[64.3,0.0098,0.0022],[64.6,0.0105,0.0024],[64.9,0.0115,0.0026],
[65.2,0.013,0.003],[65.5,0.011,0.0025],[65.8,0.0135,0.003],[66.1,0.0115,0.0026],[66.4,0.014,0.0032],[66.7,0.012,0.0027],[67.0,0.014,0.0032],[67.3,0.0115,0.0026],[67.6,0.0135,0.003],[67.9,0.011,0.0025],[68.2,0.013,0.003],[68.5,0.0105,0.0024],[68.8,0.0125,0.0028],[69.1,0.01,0.0023],
[70.3,0.0105,0.0024],[70.6,0.0085,0.0019],[70.9,0.01,0.0023],[71.2,0.0082,0.0018],[71.5,0.0098,0.0022],[71.8,0.0085,0.0019],
[72.1,0.0115,0.0026],[72.4,0.014,0.0032],[72.7,0.018,0.004],[73.0,0.022,0.005],[73.3,0.025,0.006],[73.6,0.03,0.007],[73.9,0.025,0.006],[74.2,0.028,0.0065],[74.5,0.022,0.005],[74.8,0.018,0.004],[75.1,0.015,0.0035],[75.4,0.013,0.003],[75.7,0.0115,0.0026],
[76.0,0.012,0.0027],[76.3,0.0105,0.0024],[76.6,0.0115,0.0026],[76.9,0.01,0.0023],[77.2,0.011,0.0025],[77.5,0.0095,0.0021],[77.8,0.0105,0.0024],[78.1,0.0088,0.002],[78.4,0.0098,0.0022],[78.7,0.0085,0.0019],[79.0,0.0092,0.0021],[79.3,0.008,0.0018],[79.6,0.0088,0.002],[79.9,0.0075,0.0017],
[80.2,0.0082,0.0018],[80.5,0.007,0.0016],[80.8,0.0078,0.0017],[81.1,0.0068,0.0015],[81.4,0.0078,0.0017],[81.7,0.0068,0.0015],[82.0,0.008,0.0018],[82.3,0.0069,0.0015],[82.6,0.0081,0.0018],[82.9,0.007,0.0016],[83.2,0.0083,0.0019],[83.5,0.0072,0.0016],[83.8,0.0086,0.0019],[84.1,0.0075,0.0017],[84.4,0.009,0.002],[84.7,0.0078,0.0017],
[85.0,0.0095,0.0021],[85.3,0.0085,0.0019],[85.6,0.011,0.0025],[85.9,0.0095,0.0021],[86.2,0.0115,0.0026],[86.5,0.01,0.0023],[86.8,0.012,0.0027],[87.1,0.0105,0.0024],[87.4,0.0122,0.0028],[87.7,0.0105,0.0024],[88.0,0.012,0.0027],[88.3,0.0102,0.0023],[88.6,0.0118,0.0027],[88.9,0.01,0.0023],[89.2,0.0115,0.0026],[89.5,0.0098,0.0022],[89.8,0.011,0.0025],
[90.1,0.0085,0.0019],[90.4,0.0072,0.0016],[90.7,0.008,0.0018],[91.0,0.0068,0.0015],[91.3,0.0075,0.0017],[91.6,0.0065,0.0015],[91.9,0.0072,0.0016],[92.2,0.0065,0.0015],[92.5,0.0075,0.0017],[92.8,0.009,0.002],
[93.1,0.012,0.0027],[93.4,0.015,0.0035],[93.7,0.013,0.003],[94.0,0.012,0.0027],[94.3,0.0105,0.0024],[94.6,0.0095,0.0021],[94.9,0.0085,0.0019],[95.2,0.0075,0.0017],[95.5,0.0068,0.0015],[95.8,0.006,0.0013],
[96.1,0.0065,0.0015],[96.4,0.0055,0.0012],[96.7,0.0062,0.0014],[97.0,0.0055,0.0012],[97.3,0.0065,0.0015],[97.6,0.0075,0.0017],[97.9,0.009,0.002],[98.2,0.011,0.0025],[98.5,0.009,0.002],[98.8,0.0065,0.0015],[99.1,0.0055,0.0012],[99.4,0.0062,0.0014],[99.7,0.0068,0.0015],[100,0.007,0.0016]];
var crExtra = [[1.0,0.006],[1.4,0.008],[1.8,0.005],[2.2,0.012],[2.6,0.02],[3.0,0.05],[3.4,0.08],[3.8,0.15],[2.4,0.4],[3.2,0.6],[3.6,0.7],
[4.17,0.8],[4.32,0.3],[4.47,0.85],[4.62,0.28],[4.77,0.8],[4.92,0.26],[5.07,0.7],[5.22,0.25],[5.37,0.72],[5.52,0.27],[5.67,0.8],[5.82,0.3],[5.97,0.75],[6.12,0.26],[6.27,0.78],[6.42,0.3],[6.57,0.85],[6.72,0.32],[6.87,0.82],[7.02,0.33],[7.17,0.75],[7.32,0.32],[7.47,0.72],[7.62,0.3],[7.77,0.7],[7.92,0.29],[8.07,0.68],[8.22,0.27],[8.37,0.65],[8.52,0.25],[8.67,0.6],[8.82,0.22],[8.97,0.5],[9.12,0.18],[9.27,0.4],[9.42,0.13],[9.57,0.3],[9.72,0.1],[9.87,0.2],[10.02,0.07],
[10.3,0.14],[10.6,0.045],[10.9,0.09],[11.2,0.025],[11.5,0.05],[11.8,0.015],[12.1,0.035],[12.4,0.012],[12.7,0.03],[13.0,0.011],[13.3,0.025],[13.6,0.0095],[13.9,0.02],[14.2,0.0085],[14.5,0.018],[14.8,0.0075],[15.1,0.016],[15.4,0.007],[15.7,0.014],[16.0,0.0065],[16.3,0.013],[16.6,0.0055],[16.9,0.012],[17.2,0.005],[17.5,0.012],[17.8,0.0048],[18.1,0.012],[18.4,0.0045],[18.7,0.013],[19.0,0.005],
[20.65,0.025],[21.0,0.0085],[21.3,0.017],[21.6,0.0072],[21.9,0.014],[22.2,0.006],[22.6,0.013],[23.0,0.0055],[23.4,0.013],[23.8,0.0058],[24.2,0.014],[24.6,0.0065],[25.0,0.017],[25.4,0.03],[25.8,0.045],[26.2,0.022],[26.6,0.02],[27.0,0.03],[27.4,0.04],[27.8,0.018],[28.2,0.015],[28.6,0.035],[29.0,0.045],[29.4,0.06],[29.8,0.025],[30.2,0.018],[30.6,0.0105],[31.0,0.0085],[31.4,0.0085],[31.8,0.0078],
[32.35,0.012],[32.95,0.0055],[33.55,0.012],[34.15,0.0054],[34.75,0.0115],[35.35,0.0053],[35.95,0.011],[36.55,0.0052],[37.15,0.011],[37.75,0.0052],[38.35,0.0105],[38.95,0.005],[39.55,0.0105],[40.15,0.005],[40.75,0.0105],[41.35,0.005],[41.95,0.0102],[42.55,0.005],[43.15,0.01],[43.75,0.0049],[44.35,0.01],[44.95,0.0049],[45.55,0.0102],[46.15,0.005],[46.75,0.0105],[47.35,0.0052],[47.95,0.011],[48.55,0.0054],[49.15,0.011],[49.75,0.0056],
[50.35,0.0095],[50.95,0.0052],[51.55,0.0095],[52.15,0.005],[52.75,0.0095],[53.35,0.005],[53.95,0.0095],[54.55,0.0048],[55.15,0.0093],[55.75,0.0048],[56.35,0.0093],[56.95,0.0047],[57.55,0.0093],[58.15,0.0048],[58.75,0.0095],[59.35,0.0049],[59.95,0.0097],[60.55,0.005],[61.15,0.01],[61.75,0.0052],[62.35,0.011],[62.95,0.0058],[63.55,0.011],[64.15,0.0065],[64.75,0.013],[65.35,0.0085],[65.95,0.016],[66.55,0.009],[67.15,0.016],[67.75,0.0088],[68.35,0.015],[68.95,0.0085],[69.55,0.014],[70.15,0.0075],[70.75,0.012],[71.35,0.007],[71.95,0.012],[72.55,0.0115],[73.15,0.03],[73.75,0.018],[74.35,0.032],[74.95,0.012],[75.55,0.016],[76.15,0.0085],[76.75,0.014],[77.35,0.0078],[77.95,0.012],[78.55,0.007],[79.15,0.011],[79.75,0.0062],[80.35,0.0095],[80.95,0.0058],[81.55,0.0094],[82.15,0.0058],[82.75,0.0096],[83.35,0.006],[83.95,0.01],[84.55,0.0064],[85.15,0.011],[85.75,0.0075],[86.35,0.013],[86.95,0.0085],[87.55,0.014],[88.15,0.0088],[88.75,0.0135],[89.35,0.0085],[89.95,0.012],[90.55,0.006],[91.15,0.0092],[91.75,0.0055],[92.35,0.0088],[92.95,0.0065],[93.55,0.017],[94.15,0.0085],[94.75,0.011],[95.35,0.0058],[95.95,0.0075],[96.55,0.0048],[97.15,0.0072],[97.75,0.006],[98.35,0.013],[98.95,0.0048],[99.55,0.0075]];
var crScatter = [[0.1,0.003],[0.3,0.002],[0.5,0.0035],[0.55,0.0015],[1.2,0.0015],[0.4,0.0007],[0.5,0.0003],[0.2,0.0012],[0.7,0.0022],[0.9,0.004],[0.15,0.00045],[0.35,0.0009],[0.05,0.00019],
[12.2,1.13],[12.2,0.49],[12.2,0.069],[12.97,0.54],[12.97,0.13],[12.97,0.05],[14.6,0.56],[14.6,0.069],[16.05,0.054],[16.05,0.02],[14.27,0.0047],[16.2,0.0047],[16.9,0.0027],[16.7,0.0045],[17.8,0.0024],[18.15,0.0016],[18.8,0.0017],[16.5,0.0009],[18.7,0.00043],[20.25,0.68],[19.7,0.3],[19.7,0.16],[19.7,0.11],[20.0,0.044],[22.5,0.21],[22.5,0.02],[24.3,0.044],[25.9,0.1],[27.2,0.065],[28.8,0.22],[28.8,0.17],[29.5,0.11],[31.6,0.16],[32.2,0.17],[35.0,0.13],[35.0,0.025],[37.7,0.069],[37.7,0.062],[42.4,0.065],[42.4,0.035],[43.2,0.09],[47.1,0.08],[47.1,0.028],[49.7,0.06],[32.7,0.0055],[36.0,0.0056],[41.1,0.0046],[48.5,0.0039],[49.1,0.0039],[14.1,0.0047],[21.4,0.0046],[23.5,0.004],
[49.97,0.074],[51.0,0.042],[51.0,0.021],[53.6,0.093],[55.2,0.025],[55.9,0.021],[54.7,0.0035],[57.4,0.0029],[60.3,0.0045],[62.5,0.11],[62.3,0.042],[62.3,0.02],[64.85,0.074],[64.7,0.031],[66.2,0.05],[66.55,0.074],[67.2,0.06],[67.2,0.029],[69.6,0.143],[69.8,0.067],[69.8,0.039],[68.4,0.0065],[72.8,0.049],[74.5,0.098],[74.3,0.035],[75.2,0.021],[76.7,0.021],[77.2,0.0071],[81.1,0.0049],[85.7,0.039],[85.7,0.034],[89.4,0.03],[89.7,0.021],[93.4,0.053],[93.4,0.0138],[94.4,0.021],[96.5,0.0047],[97.2,0.0047],[98.2,0.047],[98.2,0.04],[99.0,0.0031],[99.5,0.007],[96.3,0.0065],[95.5,0.0078]];

// typical relative uncertainty of the measured sets
var totalRelErr = 0.3, natRelErr = 0.45, crRelErr = 0.35;

// ---- layout ----
var svg = d3.select("#chart");
var red = "#ff0000", green = "#00ff00", magenta = "#ff00ff";
var left = 139, right = 1617;
var x = d3.scaleLinear().domain([0, 100]).range([left, right]);

svg.append("rect").attr("width", 1654).attr("height", 1198).attr("fill", "#fff");

var panels = [
  { id: "total", title: "Total  Cr-53  (HARVEY)", top: 9.8, bottom: 360.7, domain: totalDomain,
    curve: totalCurve, data: totalData.concat(totalExtra), scatter: totalScatter, rel: totalRelErr, labels: false },
  { id: "nat", title: "Capture Nat   (GUBER)", top: 383.6, bottom: 734.9, domain: captureDomain,
    curve: natCurve, data: natData.concat(natExtra), scatter: natScatter, rel: natRelErr, labels: false },
  { id: "cr", title: "Capture Cr-53  (GUBER)", top: 758, bottom: 1109.3, domain: captureDomain,
    curve: crCurve, data: crData.concat(crExtra), scatter: crScatter, rel: crRelErr, labels: true }
];

var supMinus = "\u2212";

function isDecade(v) {
  var l = Math.log10(v);
  return Math.abs(l - Math.round(l)) < 1e-6;
}

function styleAxis(g) {
  g.style("color", red);
  g.select(".domain").remove();
  g.selectAll(".tick line").attr("stroke-width", 2);
  return g;
}

panels.forEach(function(p) {
  var y = d3.scaleLog().domain(p.domain).range([p.bottom, p.top]);
  var g = svg.append("g").attr("class", "panel " + p.id);

  svg.append("clipPath").attr("id", "clip-" + p.id)
    .append("rect")
    .attr("x", left).attr("y", p.top)
    .attr("width", right - left).attr("height", p.bottom - p.top);

  var plot = g.append("g").attr("clip-path", "url(#clip-" + p.id + ")");

  // cross + error bar for one measured point
  function crossPath(d, e) {
    var cx = x(d[0]), cy = y(d[1]);
    var y1 = Math.min(cy - 10, y(d[1] + e));
    var lo = d[1] - e;
    var y2 = Math.max(cy + 10, lo > 0 ? y(lo) : p.bottom + 20);
    return "M" + (cx - 11) + "," + cy + "H" + (cx + 11) + "M" + cx + "," + y1 + "V" + y2;
  }

  var marks = plot.append("g")
    .attr("fill", "none")
    .attr("stroke", green)
    .attr("stroke-width", 2);
  marks.selectAll("path.band")
    .data(p.data)
    .join("path")
    .attr("class", "band")
    .attr("d", function(d) { return crossPath(d, Math.max(d[2] || 0, p.rel * d[1])); });
  marks.selectAll("path.out")
    .data(p.scatter)
    .join("path")
    .attr("class", "out")
    .attr("d", function(d) { return crossPath(d, d[2] || 0); });

  // evaluated curve
  var line = d3.line().x(function(d) { return x(d[0]); }).y(function(d) { return y(d[1]); });
  plot.append("path")
    .datum(p.curve)
    .attr("d", line)
    .attr("fill", "none")
    .attr("stroke", red)
    .attr("stroke-width", 2)
    .attr("stroke-linejoin", "round");

  // frame
  g.append("rect")
    .attr("x", left).attr("y", p.top)
    .attr("width", right - left).attr("height", p.bottom - p.top)
    .attr("fill", "none").attr("stroke", red).attr("stroke-width", 2);

  // x axes (ticks point inward on both edges)
  var xb = g.append("g").attr("transform", "translate(0," + p.bottom + ")")
    .call(d3.axisBottom(x).tickValues(energyMajor).tickSizeInner(-24).tickSizeOuter(0)
      .tickPadding(19).tickFormat(p.labels ? d3.format("d") : ""));
  styleAxis(xb).attr("font-family", "Liberation Sans, Arial, sans-serif").attr("font-size", 33);
  styleAxis(g.append("g").attr("transform", "translate(0," + p.bottom + ")")
    .call(d3.axisBottom(x).tickValues(energyMinor).tickSizeInner(-12).tickSizeOuter(0).tickFormat("")));
  styleAxis(g.append("g").attr("transform", "translate(0," + p.top + ")")
    .call(d3.axisTop(x).tickValues(energyMajor).tickSizeInner(-24).tickSizeOuter(0).tickFormat("")));
  styleAxis(g.append("g").attr("transform", "translate(0," + p.top + ")")
    .call(d3.axisTop(x).tickValues(energyMinor).tickSizeInner(-12).tickSizeOuter(0).tickFormat("")));

  // y axes
  var all = y.ticks();
  var majors = all.filter(isDecade);
  var minors = all.filter(function(v) { return !isDecade(v); });

  var yl = g.append("g").attr("transform", "translate(" + left + ",0)")
    .call(d3.axisLeft(y).tickValues(majors).tickSizeInner(-24).tickSizeOuter(0)
      .tickPadding(12).tickFormat(function() { return ""; }));
  styleAxis(yl).attr("font-family", "Liberation Sans, Arial, sans-serif").attr("font-size", 33);
  yl.selectAll(".tick text").each(function(d) {
    var t = d3.select(this);
    var ex = Math.round(Math.log10(d));
    t.append("tspan").text("10");
    t.append("tspan").attr("dy", -18).attr("dx", 2).attr("font-size", 23)
      .attr("letter-spacing", ex < 0 ? 3 : 0)
      .text(ex < 0 ? supMinus + (-ex) : String(ex));
  });
  styleAxis(g.append("g").attr("transform", "translate(" + left + ",0)")
    .call(d3.axisLeft(y).tickValues(minors).tickSizeInner(-12).tickSizeOuter(0).tickFormat("")));
  styleAxis(g.append("g").attr("transform", "translate(" + right + ",0)")
    .call(d3.axisRight(y).tickValues(majors).tickSizeInner(-24).tickSizeOuter(0).tickFormat("")));
  styleAxis(g.append("g").attr("transform", "translate(" + right + ",0)")
    .call(d3.axisRight(y).tickValues(minors).tickSizeInner(-12).tickSizeOuter(0).tickFormat("")));

  // y label
  var cy = (p.top + p.bottom) / 2 - 9;
  g.append("text")
    .attr("transform", "translate(43," + cy + ") rotate(-90)")
    .attr("text-anchor", "middle")
    .attr("font-family", "Liberation Sans, Arial, sans-serif")
    .attr("font-size", 34)
    .attr("textLength", 313)
    .attr("lengthAdjust", "spacingAndGlyphs")
    .attr("fill", red)
    .text("Cross Section (b)");

  // title
  g.append("text")
    .attr("x", 699).attr("y", p.top + 47)
    .attr("xml:space", "preserve")
    .style("white-space", "pre")
    .attr("font-family", "Liberation Mono, Courier New, monospace")
    .attr("font-size", 29.7)
    .attr("fill", magenta)
    .text(p.title);
});

svg.append("text")
  .attr("x", 887).attr("y", 1189)
  .attr("text-anchor", "middle")
  .attr("font-family", "Liberation Serif, Times New Roman, serif")
  .attr("font-size", 35)
  .attr("textLength", 180)
  .attr("lengthAdjust", "spacingAndGlyphs")
  .attr("fill", red)
  .text("Energy eV");

// corner mark
svg.append("polygon")
  .attr("points", "1654,1176 1631,1198 1654,1198")
  .attr("fill", "#4b9a80");
</script>
</body>
</html>
